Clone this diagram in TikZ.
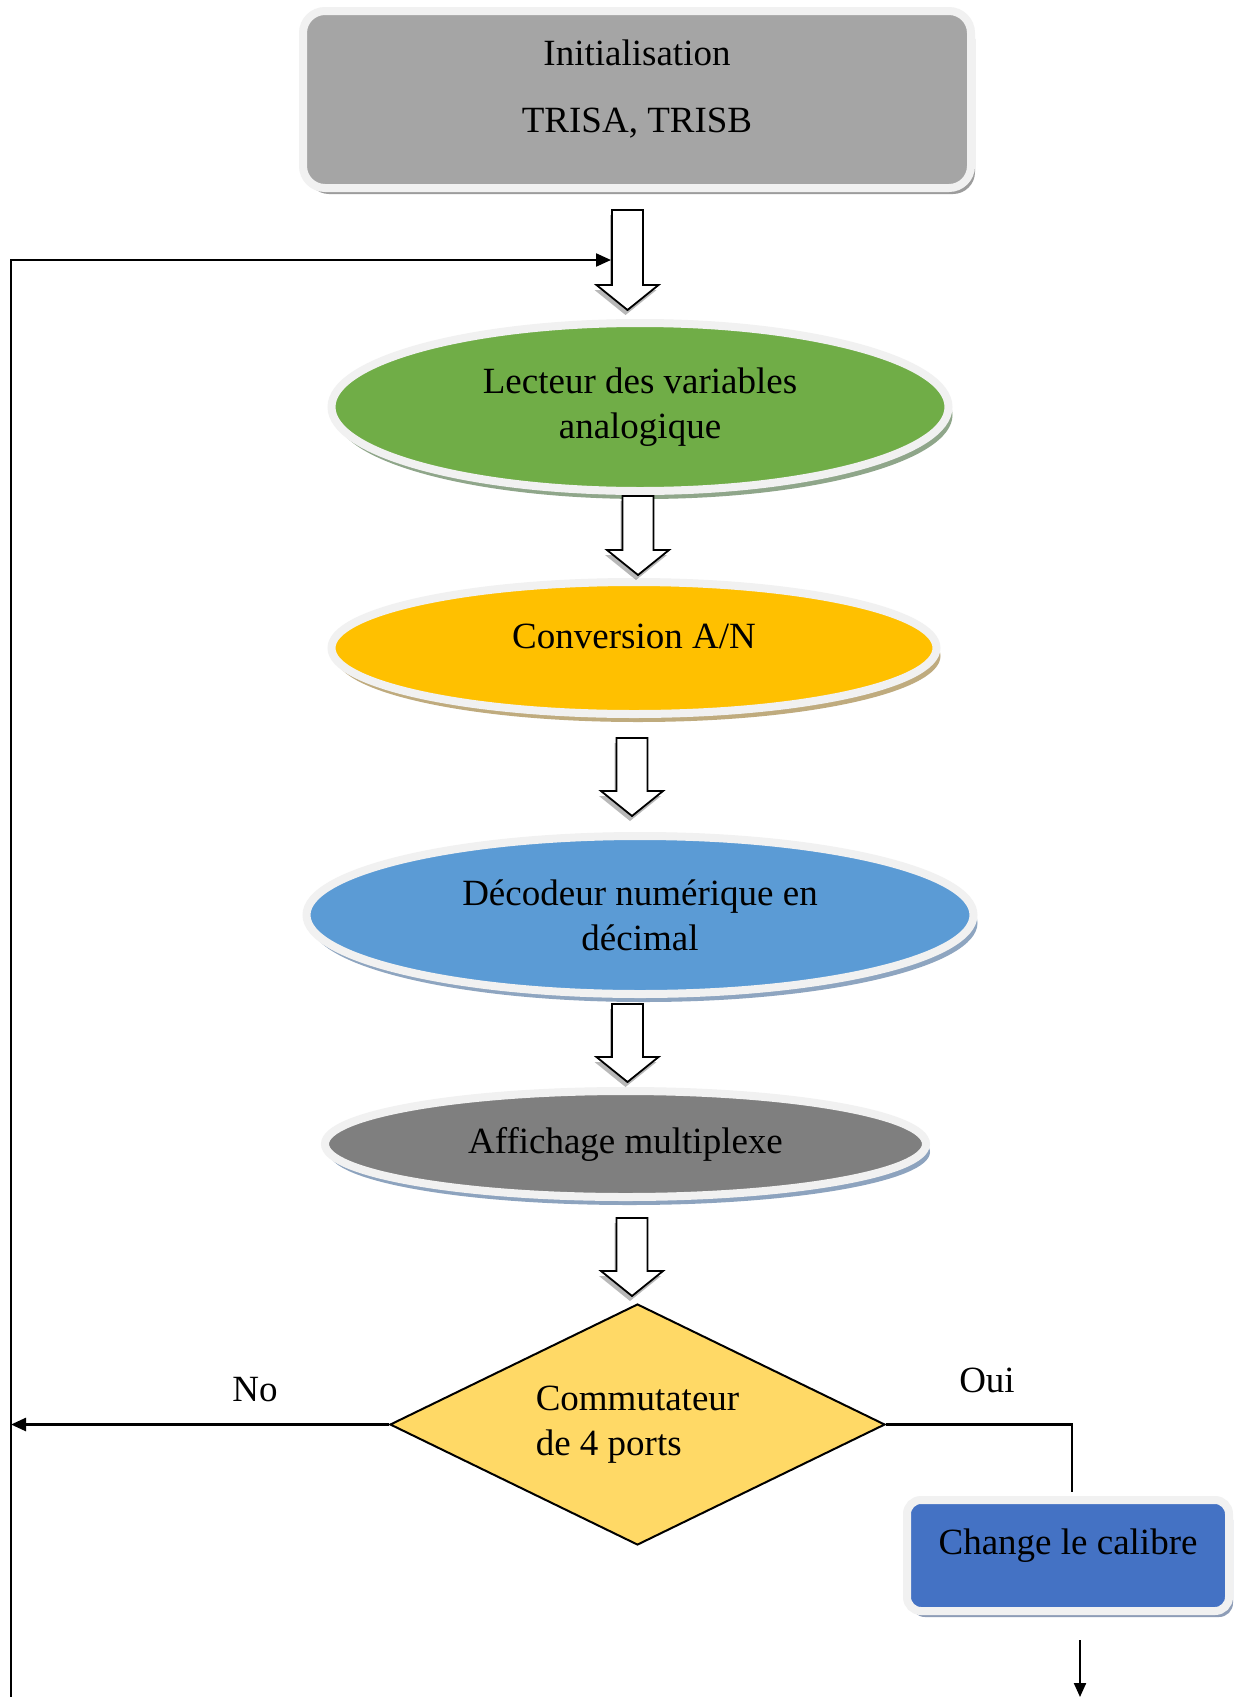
\documentclass[tikz,border=0pt]{standalone}
\usepackage{fontspec}
\setmainfont{Liberation Serif}
\usetikzlibrary{shapes.geometric,shadows,arrows.meta,calc}

\definecolor{rim}{HTML}{F1F1F1}
\definecolor{initgrey}{HTML}{A5A5A5}
\definecolor{initshade}{HTML}{9C9C9C}
\definecolor{leafgreen}{HTML}{70AD47}
\definecolor{greenshade}{HTML}{8FA68A}
\definecolor{amber}{HTML}{FFC000}
\definecolor{ambershade}{HTML}{BFAB7E}
\definecolor{skyblue}{HTML}{5B9BD5}
\definecolor{blueshade}{HTML}{8EA5C0}
\definecolor{midgrey}{HTML}{7F7F7F}
\definecolor{greyshade}{HTML}{8DA3BE}
\definecolor{sand}{HTML}{FFD966}
\definecolor{royal}{HTML}{4472C4}
\definecolor{royalshade}{HTML}{8E9DB7}

\tikzset{
  txt/.style={font=\fontsize{37pt}{45pt}\selectfont, text=black},
  rimshape/.style={draw=rim, line width=8pt, inner sep=0pt, txt},
  oval/.style 2 args={ellipse, rimshape, fill=#1,
    drop shadow={shadow xshift=4pt, shadow yshift=-8pt, fill=#2, opacity=1}},
  panel/.style 2 args={rectangle, rimshape, fill=#1,
    drop shadow={shadow xshift=4pt, shadow yshift=-6pt, fill=#2, opacity=1}},
  blockbody/.style={draw=black, line width=1.8pt, fill=white, line join=miter,
    drop shadow={shadow xshift=-2pt, shadow yshift=-5pt, fill=black, opacity=0.28}},
  pics/blockarr/.style={code={
    \draw[blockbody] (-15.5,0) -- (15.5,0) -- (15.5,#1-25) -- (31,#1-25)
      -- (0,#1) -- (-31,#1-25) -- (-15.5,#1-25) -- cycle;}},
  link/.style={draw=black, line width=2.2pt},
  flow/.style={link, -{Triangle[length=15pt,width=13pt]}},
}

\begin{document}
\begin{tikzpicture}[x=1pt,y=-1pt]
  % page
  \path[fill=white, use as bounding box] (0,0) rectangle (1239,1697);

  % process steps
  \node[panel={initgrey}{initshade}, rounded corners=22pt,
        minimum width=668pt, minimum height=177pt, align=center,
        text height=80pt, text depth=15pt]
        (init) at (637,99.5) {Initialisation\\[22pt]TRISA, TRISB};

  \node[oval={leafgreen}{greenshade}, minimum width=617pt, minimum height=168pt,
        align=center] (lect) at (640,407) {Lecteur des variables\\analogique};

  \node[oval={amber}{ambershade}, minimum width=605pt, minimum height=132pt,
        text height=20pt, text depth=20pt] (conv) at (634,648) {Conversion A/N};

  \node[oval={skyblue}{blueshade}, minimum width=667pt, minimum height=158pt,
        align=center] (deco) at (640,915) {Décodeur numérique en\\décimal};

  \node[oval={midgrey}{greyshade}, minimum width=601pt, minimum height=106pt]
        (affi) at (625.5,1144) {Affichage multiplexe};

  \node[diamond, aspect=2.05, draw=black, line width=2pt, fill=sand, inner sep=0pt,
        minimum width=495pt, minimum height=241pt, align=left, txt]
        (dec) at (637.5,1424.5) {Commutateur\\de 4 ports};

  \node[panel={royal}{royalshade}, rounded corners=14pt,
        minimum width=322pt, minimum height=111pt,
        text height=25pt, text depth=28pt]
        (chg) at (1068,1555.5) {Change le calibre};

  % branch labels
  \node[txt] (no) at (255,1390) {No};
  \node[txt] (oui) at (987,1380) {Oui};

  % hollow block arrows between the steps
  \pic at (627.5,210) {blockarr=100};
  \pic at (638,496) {blockarr=79};
  \pic at (632,738) {blockarr=78};
  \pic at (627.5,1004) {blockarr=78};
  \pic at (632,1218) {blockarr=78};

  % loose ends of the loop
  \coordinate (loopfoot) at (11,1697);
  \coordinate (loopin) at (611,260);
  \coordinate (noend) at (11,1424.5);
  \coordinate (outfoot) at (1080,1697);

  % connectors
  \draw[flow] (loopfoot) |- (loopin);
  \draw[flow, line width=2.6pt] (dec.west) -- (noend);
  \draw[link, shorten >=4pt] (dec.east) -| ([xshift=4pt]chg.north);
  \draw[flow, -{Triangle[length=14pt,width=12pt]}]
        ($(chg.south)+(12,25)$) -- (outfoot);
\end{tikzpicture}
\end{document}
